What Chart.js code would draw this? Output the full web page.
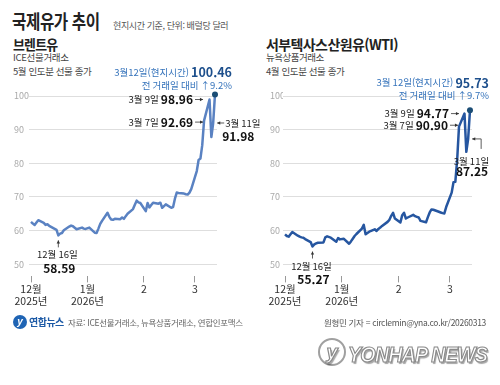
<!DOCTYPE html>
<html lang="ko">
<head>
<meta charset="utf-8">
<script src="https://cdn.jsdelivr.net/npm/chart.js@4.4.1/dist/chart.umd.min.js"></script>
<style>
body{margin:0;width:500px;height:385px;background:#fff;position:relative;overflow:hidden;font-family:"Noto Sans CJK KR",sans-serif;color:#222}
.t{position:absolute;white-space:nowrap;line-height:1}
.box{position:absolute;top:0;height:385px}
.wm{position:absolute;white-space:nowrap;font-family:"Liberation Sans",sans-serif;font-weight:bold;font-style:italic;color:#fff;-webkit-text-stroke:1.2px #8a8a8a;text-shadow:1.5px 1.5px 1px rgba(0,0,0,.35)}
</style>
</head>
<body>
<div class="t" style="left:12px;top:11px;font-size:19.5px;font-weight:bold;letter-spacing:-0.5px;transform:scaleX(0.8);transform-origin:left top">국제유가 추이</div>
<div class="t" style="left:113px;top:20.5px;font-size:9px;letter-spacing:-0.4px;color:#555">현지시간 기준, 단위: 배럴당 달러</div>

<div class="t" style="left:13px;top:36.5px;font-size:14px;font-weight:bold;letter-spacing:-0.8px;transform:scaleX(0.92);transform-origin:left top">브렌트유</div>
<div class="t" style="left:13px;top:53px;font-size:9.5px;letter-spacing:-0.3px;color:#444">ICE선물거래소</div>
<div class="t" style="left:13px;top:67px;font-size:9.5px;letter-spacing:-0.4px;color:#444">5월 인도분 선물 종가</div>

<div class="t" style="left:266px;top:36.5px;font-size:14px;font-weight:bold;letter-spacing:-0.6px">서부텍사스산원유(WTI)</div>
<div class="t" style="left:266px;top:53px;font-size:9.5px;letter-spacing:-0.5px;color:#444">뉴욕상품거래소</div>
<div class="t" style="left:266px;top:67px;font-size:9.5px;letter-spacing:-0.4px;color:#444">4월 인도분 선물 종가</div>

<div class="box" style="left:0;width:265px"><canvas id="brent"></canvas></div>
<div class="box" style="left:250px;width:250px"><canvas id="wti"></canvas></div>

<div style="position:absolute;left:13px;top:315px;width:14px;height:14px;border-radius:50%;background:#1f64b4;color:#fff;font:italic bold 10px 'Liberation Sans';line-height:14px;text-align:center">y</div>
<div class="t" style="left:29px;top:317px;font-size:10px;font-weight:bold;letter-spacing:-0.5px;color:#1d5aa6">연합뉴스</div>
<div class="t" style="left:68px;top:318px;font-size:8.5px;letter-spacing:-0.3px;color:#666">자료: ICE선물거래소, 뉴욕상품거래소, 연합인포맥스</div>
<div class="t" style="right:14px;top:318px;font-size:8.5px;letter-spacing:-0.3px;color:#555">원형민 기자 = circlemin@yna.co.kr/20260313</div>

<div class="wm" style="left:318px;top:338px;width:24px;height:24px;border:2px solid #a0a0a0;border-radius:50%;font-size:20px;line-height:24px;text-align:center">y</div>
<div class="wm" style="left:348px;top:342px;font-size:22px;letter-spacing:-1px;transform:scaleX(0.9);transform-origin:left top">YONHAP NEWS</div>

<script>
// 거래일 (월별 일자)
const decDays = [1,2,3,4,5,8,9,10,11,12,15,16,17,18,19,22,23,24,26,29,30,31];
const janDays = [2,5,6,7,8,9,12,13,14,15,16,19,20,21,22,23,26,27,28,29,30];
const febDays = [2,3,4,5,6,9,10,11,12,13,16,17,18,19,20,23,24,25,26,27];
const marDays = [2,3,4,5,6,9,10,11,12];

// 브렌트유 (달러)
const brentDec = [62.6,62.1,61.7,62.4,63.1,62.3,61.7,61.9,61.4,61.1,60.2,58.59,59.1,59.3,60.1,61.2,61.5,61.3,60.4,60.9,60.6,60.5];
const brentJan = [60.9,59.4,59.3,60.6,62.0,62.9,65.3,64.1,63.3,63.2,63.5,63.4,63.9,63.5,64.3,65.0,66.4,67.7,68.9,68.4,68.2];
const brentFeb = [65.8,68.2,66.9,67.6,68.3,68.0,68.3,66.8,67.3,67.8,66.8,67.0,69.5,71.3,71.2,71.0,70.8,70.7,71.3,72.4];
const brentMar = [77.7,81.0,81.4,85.4,92.69,98.96,87.8,91.98,100.46];

// WTI (달러)
const wtiDec = [58.9,58.4,58.2,58.9,59.6,58.5,58.2,58.0,57.9,57.5,56.6,55.27,55.9,56.2,56.4,56.5,58.0,58.3,57.9,56.7,57.8,57.4];
const wtiJan = [57.6,56.1,56.8,57.6,58.4,59.0,60.6,61.7,58.9,59.3,59.7,60.4,59.9,60.5,60.9,61.4,62.6,63.2,64.4,65.3,63.6];
const wtiFeb = [62.4,64.6,65.3,63.6,63.9,64.7,64.3,64.1,63.9,62.9,62.5,64.0,65.4,66.3,66.2,65.6,65.4,65.2,65.1,67.0];
const wtiMar = [71.3,74.4,74.5,81.0,90.90,94.77,83.4,87.25,95.73];

const monthStarts = [0, 31, 62, 90];
const monthLabels = [['12월','2025년'], ['1월','2026년'], '2', '3'];
const yTicks = [50, 60, 70, 80, 90, 100];

const FONT = '"Noto Sans CJK KR", sans-serif';

// 12월 1일 기준 일수
const dayOffsets = [
  ...decDays.map(d => d - 1),
  ...janDays.map(d => d + 30),
  ...febDays.map(d => d + 61),
  ...marDays.map(d => d + 89)
];

function toPoints(values) {
  return values.map((v, i) => ({ x: dayOffsets[i], y: v }));
}

function drawRuns(ctx, runs, x, y, align) {
  let total = 0;
  runs.forEach(r => { ctx.font = r.f; r.w = ctx.measureText(r.t).width; total += r.w; });
  let sx = align === 'right' ? x - total : align === 'center' ? x - total / 2 : x;
  ctx.textAlign = 'left';
  ctx.textBaseline = 'middle';
  runs.forEach(r => { ctx.font = r.f; ctx.fillStyle = r.c || '#222'; ctx.fillText(r.t, sx, y); sx += r.w; });
}

function arrow(ctx, x1, y1, x2, y2) {
  ctx.strokeStyle = '#333';
  ctx.fillStyle = '#333';
  ctx.lineWidth = 0.8;
  ctx.beginPath(); ctx.moveTo(x1, y1); ctx.lineTo(x2, y2); ctx.stroke();
  const a = Math.atan2(y2 - y1, x2 - x1);
  ctx.beginPath();
  ctx.moveTo(x2, y2);
  ctx.lineTo(x2 - 3.5 * Math.cos(a - 0.5), y2 - 3.5 * Math.sin(a - 0.5));
  ctx.lineTo(x2 - 3.5 * Math.cos(a + 0.5), y2 - 3.5 * Math.sin(a + 0.5));
  ctx.closePath(); ctx.fill();
}

const reg = '9.5px ' + FONT;
const bold = 'bold 12px ' + FONT;

const notesPlugin = {
  id: 'notes',
  afterDatasetsDraw(chart, args, opts) {
    const ctx = chart.ctx;
    const pts = chart.getDatasetMeta(0).data;
    ctx.save();
    (opts.items || []).forEach(n => {
      const p = pts[n.i];
      if (n.type === 'left') {
        const tx = p.x - n.gap, ty = p.y + (n.dy || 0);
        arrow(ctx, tx - 8, ty, tx, ty);
        drawRuns(ctx, [{t: n.label + ' ', f: reg}, {t: n.value, f: bold, c: '#111'}], tx - 10, ty, 'right');
      } else if (n.type === 'rightArrow') {
        const tx = p.x + n.gap, ty = p.y;
        arrow(ctx, tx + 7, ty, tx, ty);
        drawRuns(ctx, [{t: n.label, f: reg}], tx + 8, ty, 'left');
        drawRuns(ctx, [{t: n.value, f: bold, c: '#111'}], tx + 5, ty + 13, 'left');
      } else if (n.type === 'bracket') {
        const tx = p.x + n.gap, ty = p.y;
        ctx.strokeStyle = '#333'; ctx.lineWidth = 0.8;
        ctx.beginPath(); ctx.moveTo(tx + 9, ty); ctx.lineTo(tx + 9, ty + 10); ctx.stroke();
        arrow(ctx, tx + 9, ty, tx, ty);
        drawRuns(ctx, [{t: n.label, f: reg}], p.x + 21, ty + 22, 'right');
        drawRuns(ctx, [{t: n.value, f: bold, c: '#111'}], p.x + 20, ty + 33, 'right');
      } else if (n.type === 'below') {
        arrow(ctx, p.x, p.y + 12, p.x, p.y + 5);
        drawRuns(ctx, [{t: n.label, f: reg}], p.x - 1, p.y + 19.5, 'center');
        drawRuns(ctx, [{t: n.value, f: bold, c: '#111'}], p.x + 1, p.y + 33, 'center');
      } else if (n.type === 'top') {
        drawRuns(ctx, [{t: n.label + ' ', f: '9.5px ' + FONT, c: '#3573bb'}, {t: n.value, f: 'bold 12.5px ' + FONT, c: '#1d4f8c'}], p.x + n.dx, p.y + n.dy1, 'right');
        drawRuns(ctx, [{t: n.change, f: '9.5px ' + FONT, c: '#3573bb'}], p.x + n.dx, p.y + n.dy2, 'right');
      }
    });
    ctx.restore();
  }
};

function makeChart(id, values, color, pad, notes) {
  const last = values.length - 1;
  return new Chart(document.getElementById(id), {
    type: 'line',
    data: {
      datasets: [{
        data: toPoints(values),
        borderColor: color,
        borderWidth: 2.5,
        borderJoinStyle: 'round',
        tension: 0,
        clip: false,
        pointRadius: values.map((v, i) => i === last ? 3 : 0),
        pointBackgroundColor: '#1b4d75',
        pointBorderWidth: 0
      }]
    },
    plugins: [notesPlugin],
    options: {
      responsive: true,
      maintainAspectRatio: false,
      animation: false,
      layout: { padding: { left: pad.left, right: pad.right, top: 96, bottom: 78.6 } },
      plugins: { legend: { display: false }, tooltip: { enabled: false }, notes: { items: notes } },
      scales: {
        x: {
          type: 'linear',
          min: -1.1,
          max: 102.1,
          afterBuildTicks: s => { s.ticks = monthStarts.map(v => ({ value: v })); },
          afterFit: s => { s.height = 30; },
          grid: { drawOnChartArea: false, drawTicks: true, tickLength: 6, color: '#999', tickWidth: 1 },
          border: { display: false },
          ticks: {
            autoSkip: false,
            maxRotation: 0,
            padding: 1,
            color: '#333',
            font: { family: FONT, size: 10.5, lineHeight: 1.12 },
            callback: (v, i) => monthLabels[i]
          }
        },
        y: {
          min: 46.4,
          max: 100,
          afterBuildTicks: s => { s.ticks = yTicks.map(v => ({ value: v })); },
          afterFit: s => { s.width = pad.axis; },
          grid: { color: '#dedede', drawTicks: false, lineWidth: 1 },
          border: { display: false },
          ticks: { crossAlign: 'far', padding: 0, color: '#aaa', font: { family: FONT, size: 9 } }
        }
      }
    }
  });
}

const brentValues = [...brentDec, ...brentJan, ...brentFeb, ...brentMar];
const wtiValues = [...wtiDec, ...wtiJan, ...wtiFeb, ...wtiMar];

makeChart('brent', brentValues, '#5a82c2', { left: 14, right: 48, axis: 15 }, [
  { type: 'top', i: 71, label: '3월12일(현지시간)', value: '100.46', change: '전 거래일 대비 ↑9.2%', dx: 17, dy1: -22.5, dy2: -9.5 },
  { type: 'left', i: 68, label: '3월 9일', value: '98.96', gap: 6.5, dy: 0 },
  { type: 'left', i: 67, label: '3월 7일', value: '92.69', gap: 1, dy: 1.5 },
  { type: 'rightArrow', i: 70, label: '3월 11일', value: '91.98', gap: 4 },
  { type: 'below', i: 11, label: '12월 16일', value: '58.59' }
]);

makeChart('wti', wtiValues, '#2656a0', { left: 20, right: 28, axis: 13 }, [
  { type: 'top', i: 71, label: '3월 12일(현지시간)', value: '95.73', change: '전 거래일 대비 ↑9.7%', dx: 19, dy1: -27.6, dy2: -14.6 },
  { type: 'left', i: 68, label: '3월 9일', value: '94.77', gap: 5.5, dy: 0 },
  { type: 'left', i: 67, label: '3월 7일', value: '90.90', gap: 1, dy: -1.4 },
  { type: 'bracket', i: 70, label: '3월 11일', value: '87.25', gap: 4 },
  { type: 'below', i: 11, label: '12월 16일', value: '55.27' }
]);
</script>
</body>
</html>
